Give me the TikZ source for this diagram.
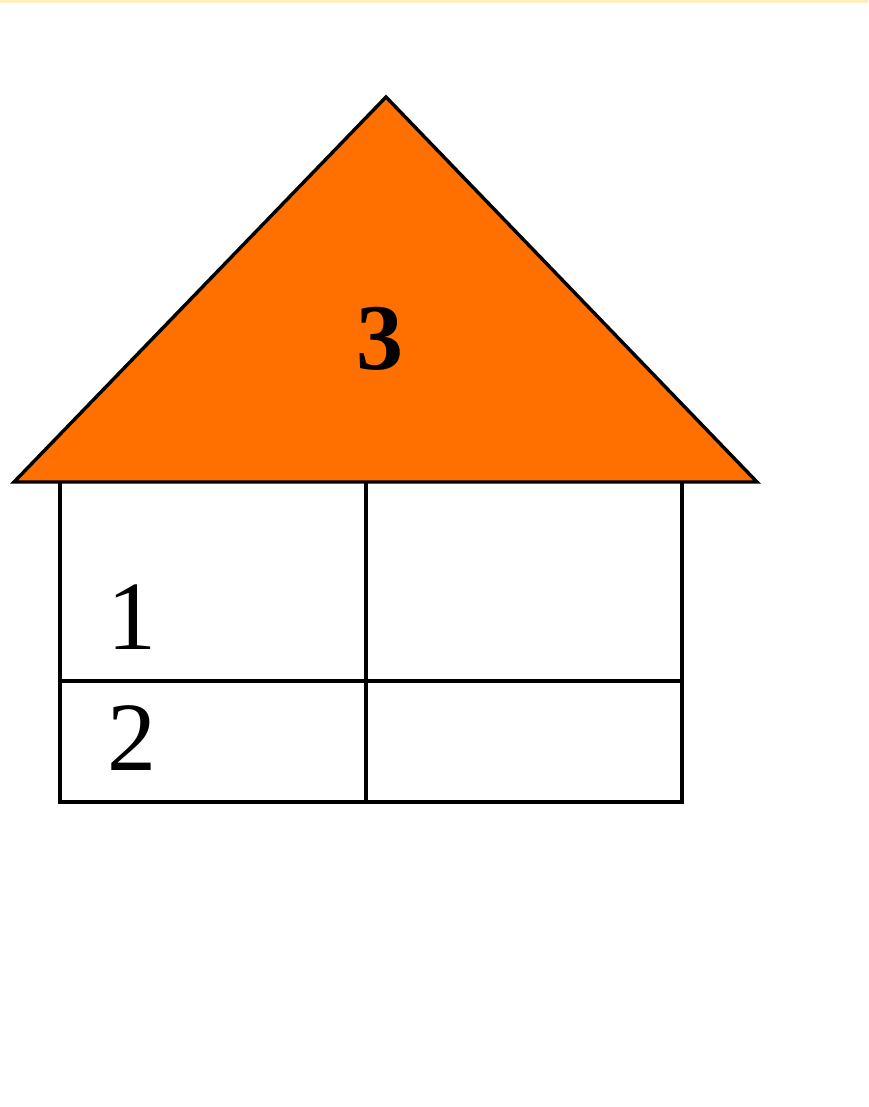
\documentclass[tikz,border=0pt]{standalone}
\usepackage{fontspec}
\setmainfont{Liberation Serif}
\definecolor{roof}{RGB}{255,112,0}
\definecolor{strip}{RGB}{255,238,192}
\begin{document}
\begin{tikzpicture}[x=1pt,y=-1pt,line width=3.4pt,
  digit/.style={inner sep=0pt,font=\fontsize{98}{98}\selectfont},
  bigbold/.style={inner sep=0pt,font=\fontsize{94}{94}\selectfont\bfseries}]
\useasboundingbox (0,0) rectangle (868,1107);
\fill[white] (0,0) rectangle (868,1107);
\fill[strip] (0,0) rectangle (868,3.5);
% roof
\coordinate (apex) at (386,97);
\coordinate (bl) at (14,482);
\coordinate (br) at (757,482);
\filldraw[fill=roof,draw=black,line join=miter] (apex) -- (br) -- (bl) -- cycle;
% body
\coordinate (tl) at (60,482);
\coordinate (tr) at (682,482);
\coordinate (dl) at (60,802);
\coordinate (dr) at (682,802);
\draw (tl) -- (dl) -- (dr) -- (tr);
\coordinate (vt) at (366,482);
\coordinate (vb) at (366,802);
\draw (vt) -- (vb);
\coordinate (hl) at (60,681);
\coordinate (hr) at (682,681);
\draw (hl) -- (hr);
\node[digit] (n1) at (132,617) {1};
\node[digit] (n2) at (132,738) {2};
\node[bigbold] (n3) at (380,339) {3};
\end{tikzpicture}
\end{document}
